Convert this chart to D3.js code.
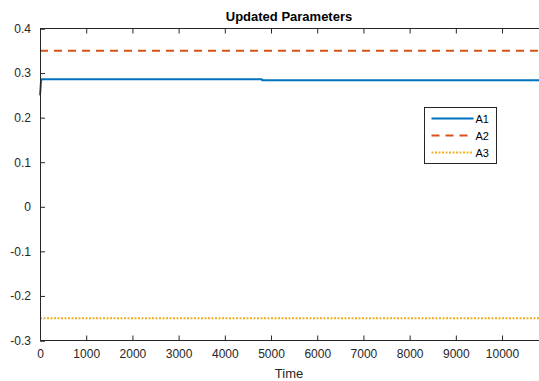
<!DOCTYPE html>
<html>
<head>
<meta charset="utf-8">
<script src="https://cdn.jsdelivr.net/npm/d3@7"></script>
<style>
  html, body { margin: 0; padding: 0; background: #fff; }
  svg { display: block; font-family: "Liberation Sans", Arial, sans-serif; }
</style>
</head>
<body>
<svg id="chart" width="539" height="381"></svg>
<script>
// Parameter traces over time
const seriesNames = ["A1", "A2", "A3"];
const a1Time = [0, 20, 30, 4800, 4810, 10800];
const a1Value = [0.25, 0.278, 0.286, 0.286, 0.284, 0.284];
const a2Time = [0, 10800];
const a2Value = [0.35, 0.35];
const a3Time = [0, 10800];
const a3Value = [-0.25, -0.25];
const xTicks = [0, 1000, 2000, 3000, 4000, 5000, 6000, 7000, 8000, 9000, 10000];
const yTicks = [-0.3, -0.2, -0.1, 0, 0.1, 0.2, 0.3, 0.4];
const xDomain = [0, 10800];
const yDomain = [-0.3, 0.4];

const colors = ["#0072BD", "#D95319", "#EDB120"];
const dashes = [null, "8,6", "2,1.5"];

const svg = d3.select("#chart");
const m = { left: 40, right: 0, top: 28.5, bottom: 40.5 };
const W = 539, H = 381;
const x = d3.scaleLinear().domain(xDomain).range([m.left, W - m.right]);
const y = d3.scaleLinear().domain(yDomain).range([H - m.bottom, m.top]);

const axisColor = "#262626";
// plain hyphen-minus for negative tick labels
const fmt = d => d === 0 ? "0" : d3.format(".1f")(d).replace("\u2212", "-");

// series
const data = [
  a1Time.map((t, i) => [t, a1Value[i]]),
  a2Time.map((t, i) => [t, a2Value[i]]),
  a3Time.map((t, i) => [t, a3Value[i]])
];
const line = d3.line().x(d => x(d[0])).y(d => y(d[1]));

const plot = svg.append("g");
data.forEach((pts, i) => {
  plot.append("path")
    .attr("d", line(pts))
    .attr("fill", "none")
    .attr("stroke", colors[i])
    .attr("stroke-width", 2)
    .attr("stroke-dasharray", dashes[i]);
});

// axes
const gx = svg.append("g").attr("transform", `translate(0,${y(yDomain[0])})`)
  .call(d3.axisBottom(x).tickValues(xTicks).tickSize(-5).tickPadding(9).tickFormat(d => String(d)));
const gxTop = svg.append("g").attr("transform", `translate(0,${y(yDomain[1])})`)
  .call(d3.axisTop(x).tickValues(xTicks).tickSize(-5).tickFormat(""));
const gy = svg.append("g").attr("transform", `translate(${m.left},0)`)
  .call(d3.axisLeft(y).tickValues(yTicks).tickSize(-5).tickPadding(9).tickFormat(fmt));

[gx, gxTop, gy].forEach(g => {
  g.select(".domain").attr("stroke", axisColor).attr("stroke-width", 1);
  g.selectAll(".tick line").attr("stroke", axisColor);
  g.selectAll(".tick text").attr("fill", axisColor).attr("font-size", 12)
    .attr("font-family", "Liberation Sans, Arial, sans-serif");
});
gx.select(".domain").attr("d", `M${m.left},0H${W}`);
gxTop.select(".domain").attr("d", `M${m.left},0H${W}`);

// title and axis label
svg.append("text").attr("x", 289).attr("y", 21).attr("text-anchor", "middle")
  .attr("font-size", 13).attr("font-weight", "bold").attr("fill", "#000")
  .text("Updated Parameters");
svg.append("text").attr("x", 289).attr("y", 378).attr("text-anchor", "middle")
  .attr("font-size", 13).attr("fill", axisColor).text("Time");

// legend
const lg = svg.append("g").attr("transform", "translate(424.5,107.5)");
lg.append("rect").attr("width", 72).attr("height", 56)
  .attr("fill", "#fff").attr("stroke", axisColor).attr("stroke-width", 1);
seriesNames.forEach((name, i) => {
  const yy = 11 + i * 17;
  lg.append("line").attr("x1", 7).attr("x2", 49).attr("y1", yy).attr("y2", yy)
    .attr("stroke", colors[i]).attr("stroke-width", 2).attr("stroke-dasharray", dashes[i]);
  lg.append("text").attr("x", 51).attr("y", yy + 4).attr("font-size", 11)
    .attr("fill", "#000").text(name);
});
</script>
</body>
</html>
